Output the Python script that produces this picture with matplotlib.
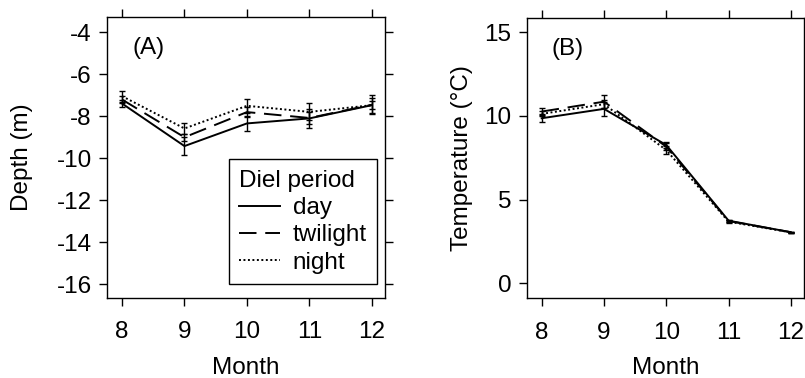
import numpy as np
import matplotlib.pyplot as plt

plt.rcParams["font.family"] = ["Liberation Sans", "DejaVu Sans"]
plt.rcParams["axes.unicode_minus"] = False

# ── data ─────────────────────────────────────────────────────────────────────
months = [8, 9, 10, 11, 12]
periods = ["day", "twilight", "night"]

depth_day = [-7.39, -9.42, -8.34, -8.10, -7.47]
depth_twi = [-7.20, -9.00, -7.80, -8.08, -7.45]
depth_ngt = [-7.04, -8.58, -7.50, -7.79, -7.47]
depth_day_se = [0.16, 0.43, 0.35, 0.45, 0.20]
depth_twi_se = [0.15, 0.16, 0.25, 0.30, 0.45]
depth_ngt_se = [0.26, 0.27, 0.32, 0.40, 0.35]

temp_day = [9.86, 10.42, 8.26, 3.74, 3.05]
temp_twi = [10.26, 10.85, 8.16, 3.72, 3.05]
temp_ngt = [10.12, 10.70, 7.96, 3.68, 3.04]
temp_day_se = [0.25, 0.40, 0.20, 0.06, 0.04]
temp_twi_se = [0.20, 0.40, 0.20, 0.06, 0.04]
temp_ngt_se = [0.15, 0.25, 0.25, 0.06, 0.04]

styles = {"day": dict(ls="-"),
          "twilight": dict(ls=(0, (9, 4.5))),
          "night": dict(ls=(0, (1, 1.3)))}

fig = plt.figure(figsize=(8.05, 3.78), dpi=100)
W, H = 805, 378
axA = fig.add_axes([107 / W, 1 - 297.7 / H, 278 / W, 280.4 / H])
axB = fig.add_axes([526.7 / W, 1 - 298 / H, 277.3 / W, 280 / H])

FS = 17.5


def panel(ax, series, errs, ylim, yticks, ylabel, tag, ylab_x):
    for p, y, e in zip(periods, series, errs):
        ax.errorbar(months, y, yerr=e, color="black", lw=1.4, elinewidth=1.0,
                    capsize=2.4, capthick=1.0, label=p, **styles[p])
    ax.set_xlim(7.76, 12.21)
    ax.set_ylim(*ylim)
    ax.set_xticks(months)
    ax.set_yticks(yticks)
    ax.tick_params(direction="out", length=6, width=1.0, labelsize=FS,
                   top=True, right=True, color="black")
    ax.tick_params(axis="x", pad=11)
    ax.tick_params(axis="y", pad=5)
    for s in ax.spines.values():
        s.set_linewidth(1.0)
    ax.set_xlabel("Month", fontsize=FS, va="baseline")
    ax.xaxis.set_label_coords(0.5, -0.272)
    ax.set_ylabel(ylabel, fontsize=FS, va="center")
    ax.yaxis.set_label_coords(ylab_x, 0.5)
    ax.text(0.09, 0.89, tag, transform=ax.transAxes, fontsize=FS, va="center")


panel(axA, [depth_day, depth_twi, depth_ngt],
      [depth_day_se, depth_twi_se, depth_ngt_se],
      (-16.65, -3.28), np.arange(-16, -3, 2), "Depth (m)", "(A)", -0.305)
panel(axB, [temp_day, temp_twi, temp_ngt],
      [temp_day_se, temp_twi_se, temp_ngt_se],
      (-0.88, 15.85), [0, 5, 10, 15], "Temperature (°C)", "(B)", -0.234)

handles = [plt.Line2D([], [], color="black", lw=1.4, **styles[p]) for p in periods]
leg = axA.legend(handles, periods, title="Diel period", loc="lower right",
                 bbox_to_anchor=(0.971, 0.049), fontsize=FS, title_fontsize=FS,
                 frameon=True, fancybox=False, edgecolor="black", framealpha=1,
                 handlelength=1.7, handletextpad=0.5, labelspacing=0.22,
                 borderpad=0.42, borderaxespad=0, alignment="left")
leg.get_frame().set_linewidth(1.0)

fig.savefig("out.png", dpi=100)
